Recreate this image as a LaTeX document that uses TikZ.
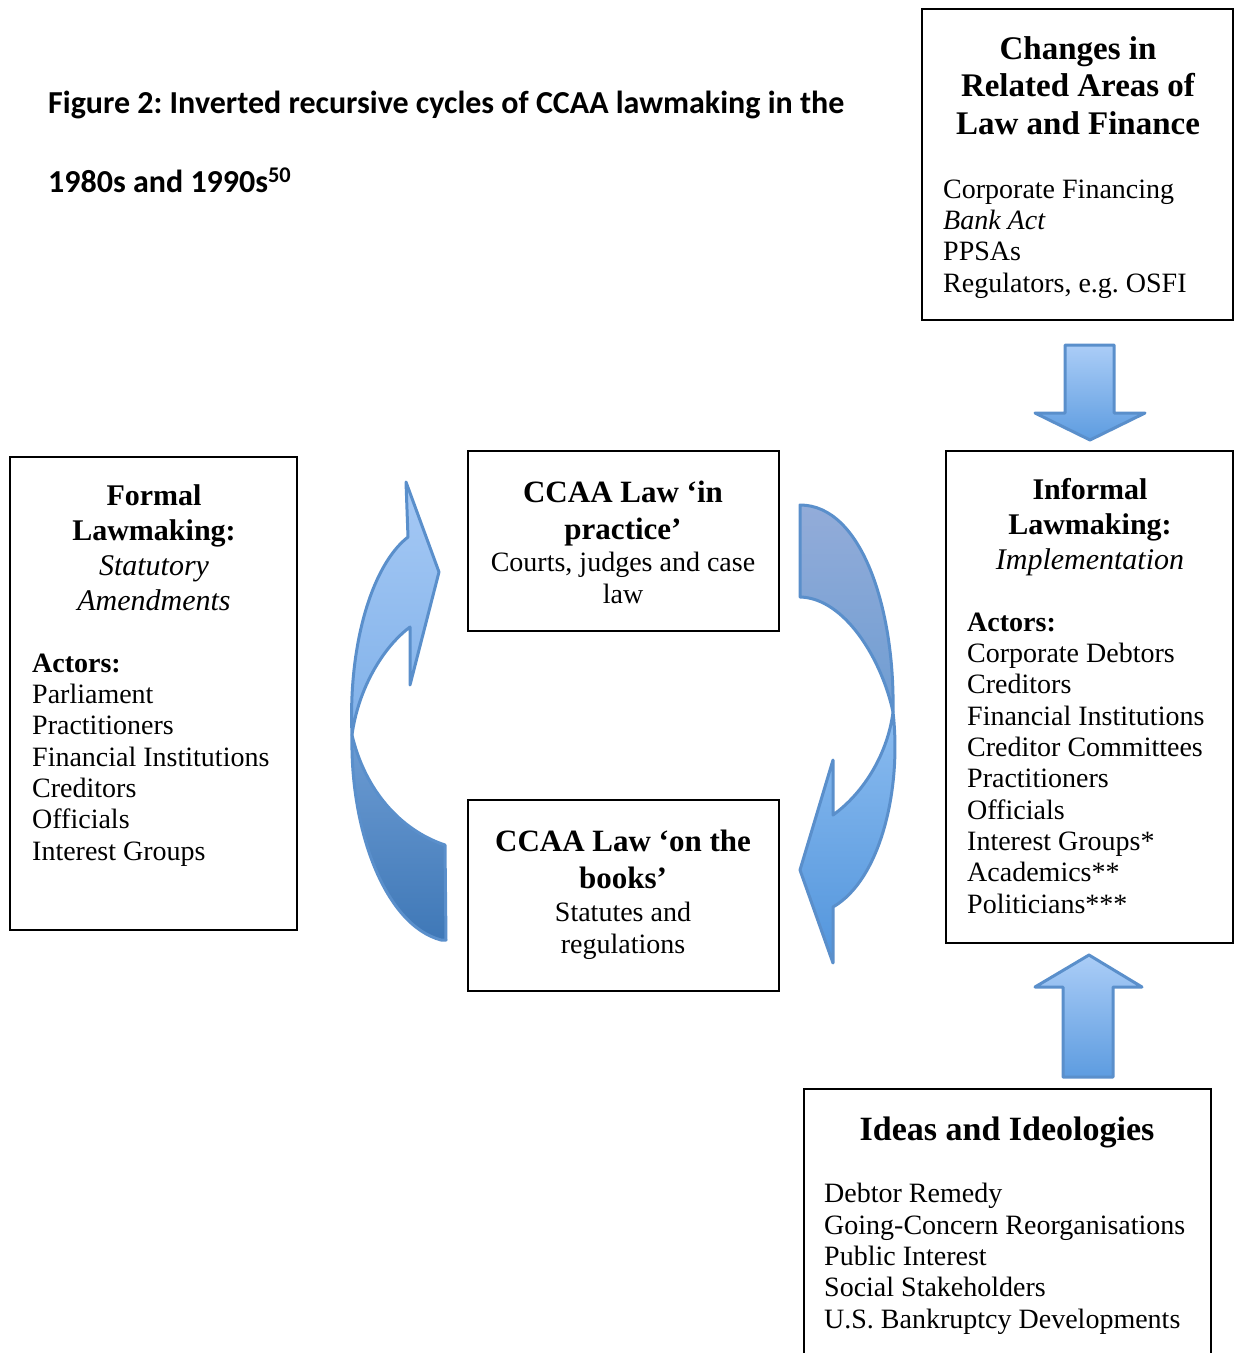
\documentclass[tikz,border=0pt]{standalone}
\usepackage{fontspec}
\setmainfont{Liberation Serif}
\newfontfamily\captionfont{Carlito}
\usepackage{tikz}
\frenchspacing

\definecolor{arrowedge}{HTML}{5A8FCB}
\definecolor{lighttop}{HTML}{ABCDF7}
\definecolor{lightbot}{HTML}{5D9CE0}
\definecolor{fronttop}{HTML}{A6C9F5}
\definecolor{frontmid}{HTML}{80B1E9}
\definecolor{backmid}{HTML}{6D9CD3}
\definecolor{backbot}{HTML}{3F78B7}
\definecolor{greytop}{HTML}{93ACD9}
\definecolor{greymid}{HTML}{6F9DD2}
\definecolor{frontlow}{HTML}{8BBCF0}
\definecolor{frontbot}{HTML}{5295DC}

\begin{document}
\begin{tikzpicture}[x=1pt, y=-1pt,
  box/.style={draw, line width=1.6pt, inner sep=0pt},
  head/.style={font=\bfseries\fontsize{30}{35}\selectfont, align=center, anchor=base, inner sep=0pt},
  bighead/.style={head, font=\bfseries\fontsize{33}{37.5}\selectfont},
  items/.style={font=\fontsize{28}{31.3}\selectfont, align=left, anchor=base west, inner sep=0pt},
  body/.style={font=\fontsize{28}{31.3}\selectfont, align=center, anchor=base, inner sep=0pt},
  bluearrow/.style={draw=arrowedge, line width=3pt, line join=round}]

\useasboundingbox (0,0) rectangle (1234,1353);

\node[font=\captionfont\bfseries\fontsize{32}{79}\selectfont, align=left, anchor=base west, inner sep=0pt] (title) at (48,192)
  {Figure 2: Inverted recursive cycles of CCAA lawmaking in the\\1980s and 1990s\textsuperscript{50}};

\node[box, minimum width=311, minimum height=311] (changes) at (1077.5,164.5) {};
\node[box, minimum width=287, minimum height=492] (informal) at (1089.5,697) {};
\node[box, minimum width=287, minimum height=473] (formal) at (153.5,693.5) {};
\node[box, minimum width=311, minimum height=180] (practice) at (623.5,541) {};
\node[box, minimum width=311, minimum height=191] (books) at (623.5,895.5) {};
\node[box, minimum width=407, minimum height=300] (ideas) at (1007.5,1239) {};

\node[bighead] (changeshead) at (1078,134) {Changes in\\Related Areas of\\Law and Finance};
\node[items] (changesitems) at (943,292) {Corporate Financing\\\textit{Bank Act}\\PPSAs\\Regulators, e.g. OSFI};

\node[head] (formalhead) at (154,610) {Formal\\Lawmaking:\\{\mdseries\itshape Statutory}\\{\mdseries\itshape Amendments}};
\node[items] (formalitems) at (32,860) {\textbf{Actors:}\\Parliament\\Practitioners\\Financial Institutions\\Creditors\\Officials\\Interest Groups};

\node[head] (informalhead) at (1090,569) {Informal\\Lawmaking:\\{\mdseries\itshape Implementation}};
\node[items] (informalitems) at (967,913) {\textbf{Actors:}\\Corporate Debtors\\Creditors\\Financial Institutions\\Creditor Committees\\Practitioners\\Officials\\Interest Groups*\\Academics**\\Politicians***};

\node[head, font=\bfseries\fontsize{31}{37}\selectfont] (practicehead) at (623,539) {CCAA Law `in\\practice'};
\node[body] (practicetext) at (623,603) {Courts, judges and case\\law};

\node[head, font=\bfseries\fontsize{31}{37}\selectfont] (bookshead) at (623,888) {CCAA Law `on the\\books'};
\node[body] (bookstext) at (623,953) {Statutes and\\regulations};

\node[bighead, font=\bfseries\fontsize{34}{37}\selectfont] (ideashead) at (1007,1140) {Ideas and Ideologies};
\node[items] (ideasitems) at (824,1328) {Debtor Remedy\\Going-Concern Reorganisations\\Public Interest\\Social Stakeholders\\U.S. Bankruptcy Developments};

\draw[bluearrow, top color=lighttop, bottom color=lightbot] (1065,345) -- (1114,345) -- (1114,413) -- (1145,413) -- (1090,440) -- (1035,413) -- (1065,413) -- cycle;
\draw[bluearrow, top color=lighttop, bottom color=lightbot] (1089,955) -- (1142,987) -- (1113,987) -- (1113,1077) -- (1063,1077) -- (1063,987) -- (1035,987) -- cycle;

\draw[bluearrow, top color=backmid, bottom color=backbot] (352,735) .. controls (350,830) and (385,925) .. (441,940) -- (446,940) -- (445,845) .. controls (400,830) and (365,790) .. (352,735) -- cycle;
\draw[bluearrow, top color=fronttop, bottom color=frontmid] (352,735) .. controls (348,645) and (372,565) .. (408,537) -- (406,482) -- (439,572) -- (410,685) -- (410,627) .. controls (382,648) and (358,690) .. (352,735) -- cycle;

\draw[bluearrow, top color=greytop, bottom color=greymid] (800,505) .. controls (862,505) and (895,610) .. (893,712) .. controls (882,660) and (845,598) .. (800,597) -- cycle;
\draw[bluearrow, top color=frontlow, bottom color=frontbot] (893,712) .. controls (902,790) and (880,880) .. (833,907) -- (833,963) -- (800,870) -- (833,760) -- (833,815) .. controls (865,792) and (888,752) .. (893,712) -- cycle;
\end{tikzpicture}
\end{document}
